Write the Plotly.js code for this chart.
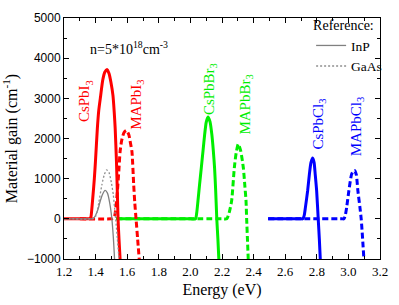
<!DOCTYPE html>
<html>
<head>
<meta charset="utf-8">
<script src="https://cdn.plot.ly/plotly-3.0.1.min.js"></script>
<style>html,body{margin:0;padding:0;background:#fff;}#chart{width:399px;height:305px;}</style>
</head>
<body>
<div id="chart"></div>
<script>
// Energy (eV) and material gain (cm^-1)
const csPbI3_E = [1.20,1.30,1.35,1.36,1.37,1.375,1.384,1.392,1.399,1.411,1.420,1.432,1.445,1.458,1.472,1.485,1.497,1.510,1.518,1.524,1.532,1.538,1.542,1.548,1.555];
const csPbI3_G = [0,0,0,5,40,200,607,1000,1426,2245,2700,3066,3450,3650,3720,3620,3400,3066,2650,2245,1426,607,0,-500,-1000];

const maPbI3_E = [1.30,1.50,1.51,1.52,1.526,1.535,1.541,1.548,1.555,1.565,1.58,1.595,1.61,1.62,1.63,1.641,1.648,1.656,1.666,1.676];
const maPbI3_G = [0,0,10,60,200,550,853,1250,1672,1950,2150,2200,2100,1900,1672,853,400,0,-500,-1000];

const csPbBr3_E = [1.53,2.00,2.032,2.040,2.048,2.058,2.069,2.080,2.090,2.100,2.111,2.124,2.136,2.145,2.153,2.160,2.167,2.174,2.180];
const csPbBr3_G = [0,0,0,150,450,850,1270,1700,2090,2400,2533,2420,2090,1700,1270,700,0,-500,-1000];

const maPbBr3_E = [1.53,2.20,2.230,2.245,2.261,2.278,2.290,2.303,2.318,2.335,2.345,2.352,2.356,2.361,2.366];
const maPbBr3_G = [0,0,0,150,450,1270,1650,1860,1700,1270,800,450,0,-500,-1000];

const csPbCl3_E = [2.492,2.700,2.711,2.720,2.728,2.742,2.753,2.763,2.774,2.783,2.790,2.799,2.809,2.816,2.822];
const csPbCl3_G = [0,0,0,80,285,700,1107,1400,1515,1400,1107,700,0,-500,-1000];

const maPbCl3_E = [2.492,2.960,2.972,2.980,2.989,3.003,3.020,3.030,3.039,3.050,3.060,3.073,3.081,3.090,3.098];
const maPbCl3_G = [0,0,0,80,285,700,1107,1180,1205,1100,700,285,0,-500,-1000];

const inP_E = [1.20,1.37,1.38,1.39,1.40,1.41,1.42,1.43,1.445,1.46,1.475,1.49,1.503,1.512,1.52];
const inP_G = [0,0,5,30,90,180,300,450,620,710,640,380,0,-450,-1000];

const gaAs_E = [1.20,1.38,1.39,1.40,1.41,1.42,1.44,1.455,1.47,1.485,1.50,1.512,1.52,1.527,1.538,1.548];
const gaAs_G = [0,0,15,60,180,400,850,1100,1220,1150,900,600,280,0,-500,-1000];

const seriesLabels = ['CsPbI<sub>3</sub>','MAPbI<sub>3</sub>','CsPbBr<sub>3</sub>','MAPbBr<sub>3</sub>','CsPbCl<sub>3</sub>','MAPbCl<sub>3</sub>'];
const labelE = [1.338,1.665,2.128,2.354,2.811,3.056];
const labelG = [2926,2852,3221,2852,2360,2287];
const labelColors = ['#ff0000','#ff0000','#00ee00','#00ee00','#0000ff','#0000ff'];
const referenceNames = ['InP','GaAs'];

const serif = 'Liberation Serif, Times New Roman, serif';
const sans = 'Liberation Sans, Arial, sans-serif';
const DASH = '6px,3px';

function tr(x, y, color, dash, width, name, show){
  return {x:x, y:y, type:'scatter', mode:'lines', name:name||'', showlegend:!!show,
    line:{color:color, width:width, dash:dash, shape:'spline', smoothing:0.6}, hoverinfo:'skip'};
}

const data = [
  tr(csPbBr3_E, csPbBr3_G, '#00ee00', 'solid', 3),
  tr(maPbBr3_E, maPbBr3_G, '#00ee00', DASH, 3),
  tr(csPbCl3_E, csPbCl3_G, '#0000ff', 'solid', 3),
  tr(maPbCl3_E, maPbCl3_G, '#0000ff', DASH, 3),
  tr(maPbI3_E, maPbI3_G, '#ff0000', DASH, 3),
  tr(csPbI3_E, csPbI3_G, '#ff0000', 'solid', 3),
  tr(inP_E, inP_G, '#808080', 'solid', 1.3, referenceNames[0], true),
  tr(gaAs_E, gaAs_G, '#909090', '2px,2px', 1.3, referenceNames[1], true)
];

const annotations = seriesLabels.map((t,i)=>({
  x:labelE[i], y:labelG[i], xref:'x', yref:'y', text:t, textangle:-90, showarrow:false,
  font:{family:serif, size:15, color:labelColors[i]}
}));
annotations.push({x:1.614, y:4254, xref:'x', yref:'y', showarrow:false,
  text:'n=5*10<sup>18</sup>cm<sup>-3</sup>', font:{family:serif, size:14, color:'#000'}});

const layout = {
  width:399, height:305,
  margin:{l:64, r:16, t:15, b:46, pad:0},
  paper_bgcolor:'#fff', plot_bgcolor:'#fff',
  showlegend:true,
  legend:{x:0.782, y:1.025, xanchor:'left', yanchor:'top', bgcolor:'rgba(0,0,0,0)', borderwidth:0,
    font:{family:serif, size:13.5, color:'#000'}, tracegroupgap:0,
    title:{text:'Reference:', side:'top', font:{family:serif, size:14, color:'#000'}}},
  xaxis:{range:[1.2,3.2], dtick:0.2, tick0:1.2, tickformat:'.1f', ticks:'inside', ticklen:5, tickwidth:1,
    tickcolor:'#000', showline:true, linecolor:'#000', linewidth:1, mirror:'ticks', zeroline:false, showgrid:false,
    minor:{dtick:0.1, ticks:'inside', ticklen:3, tickcolor:'#000', showgrid:false},
    tickfont:{family:serif, size:13, color:'#000'},
    title:{text:'Energy (eV)', font:{family:serif, size:16, color:'#000'}, standoff:6}},
  yaxis:{range:[-1000,5000], dtick:1000, ticks:'inside', ticklen:5, tickwidth:1,
    tickcolor:'#000', showline:true, linecolor:'#000', linewidth:1, mirror:'ticks', zeroline:false, showgrid:false,
    minor:{dtick:500, ticks:'inside', ticklen:3, tickcolor:'#000', showgrid:false},
    tickfont:{family:sans, size:12, color:'#000'},
    title:{text:'Material gain (cm<sup>-1</sup>)', font:{family:serif, size:16, color:'#000'}, standoff:8}},
  annotations:annotations
};

Plotly.newPlot('chart', data, layout, {displayModeBar:false, staticPlot:true});
</script>
</body>
</html>
